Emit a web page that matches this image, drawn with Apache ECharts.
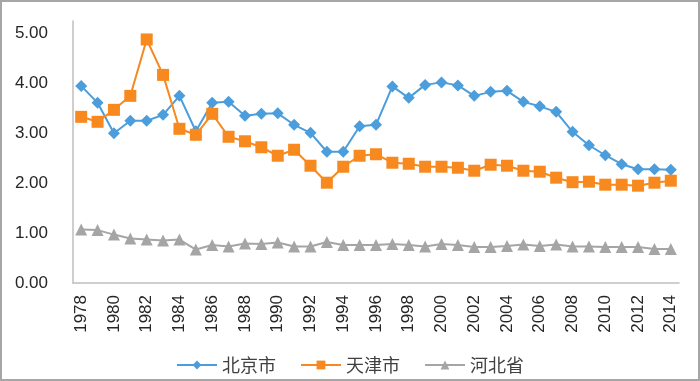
<!DOCTYPE html>
<html>
<head>
<meta charset="utf-8">
<script src="https://cdn.jsdelivr.net/npm/echarts@6/dist/echarts.min.js"></script>
<style>
html,body{margin:0;padding:0;background:#fff;}
#wrap{position:relative;width:700px;height:381px;}
#chart{position:absolute;left:0;top:0;width:700px;height:381px;}
#frame{position:absolute;left:0;top:0;width:700px;height:381px;box-sizing:border-box;border:2px solid #a6a6a6;pointer-events:none;}
</style>
</head>
<body>
<div id="wrap"><div id="chart"></div><div id="frame"></div></div>
<script>
const years = [];
for (let y = 1978; y <= 2014; y++) years.push(String(y));

const beijing = [3.95,3.61,3.00,3.25,3.25,3.37,3.75,3.04,3.61,3.63,3.35,3.39,3.40,3.17,3.01,2.63,2.63,3.14,3.17,3.94,3.71,3.97,4.02,3.96,3.75,3.83,3.85,3.63,3.54,3.43,3.03,2.76,2.56,2.38,2.28,2.28,2.27];
const tianjin = [3.33,3.23,3.47,3.75,4.88,4.17,3.09,2.97,3.39,2.93,2.84,2.72,2.55,2.67,2.35,2.01,2.33,2.55,2.58,2.41,2.39,2.33,2.33,2.31,2.25,2.37,2.35,2.25,2.23,2.11,2.02,2.03,1.97,1.97,1.95,2.01,2.05];
const hebei = [1.07,1.06,0.97,0.89,0.87,0.85,0.87,0.67,0.76,0.73,0.79,0.78,0.81,0.73,0.73,0.82,0.76,0.76,0.76,0.78,0.76,0.73,0.78,0.76,0.72,0.72,0.74,0.77,0.74,0.77,0.73,0.73,0.72,0.72,0.72,0.68,0.68];

const seriesNames = ['北京市','天津市','河北省'];
const colors = ['#4C9DDB','#F7891F','#A5A5A5'];

const chart = echarts.init(document.getElementById('chart'));
const textFont = '"Liberation Sans", Arial, sans-serif';
const cjkFont = '"Noto Sans CJK SC", sans-serif';

function mk(name, data, color, symbol, size) {
  return {
    name: name, type: 'line', data: data,
    symbol: symbol, symbolSize: size,
    showAllSymbol: true,
    lineStyle: { color: color, width: 2 },
    itemStyle: { color: color },
    emphasis: { disabled: true },
    animation: false
  };
}

chart.setOption({
  animation: false,
  color: colors,
  grid: { left: 73, right: 21, top: 21, bottom: 98, containLabel: false },
  xAxis: {
    type: 'category',
    data: years,
    boundaryGap: true,
    axisLine: { lineStyle: { color: '#bfbfbf', width: 1.5 } },
    axisTick: { show: false },
    axisLabel: { rotate: 90, interval: 1, margin: 12, fontSize: 17, color: '#262626', fontFamily: textFont }
  },
  yAxis: {
    type: 'value',
    min: 0, max: 5.25, interval: 1,
    splitLine: { show: false },
    axisTick: { show: false },
    axisLine: { show: true, lineStyle: { color: '#bfbfbf', width: 1.5 } },
    axisLabel: {
      fontSize: 17, color: '#262626', fontFamily: textFont, margin: 25,
      formatter: function (v) { return Math.abs(v - Math.round(v)) < 1e-9 ? v.toFixed(2) : ''; }
    }
  },
  legend: {
    bottom: 2,
    left: 'center',
    itemWidth: 40, itemHeight: 11, itemGap: 24,
    textStyle: { fontSize: 18, color: '#404040', fontFamily: cjkFont },
    data: seriesNames
  },
  series: [
    mk(seriesNames[0], beijing, colors[0], 'diamond', 12),
    mk(seriesNames[1], tianjin, colors[1], 'rect', 12),
    mk(seriesNames[2], hebei, colors[2], 'triangle', 12)
  ]
});
</script>
</body>
</html>
